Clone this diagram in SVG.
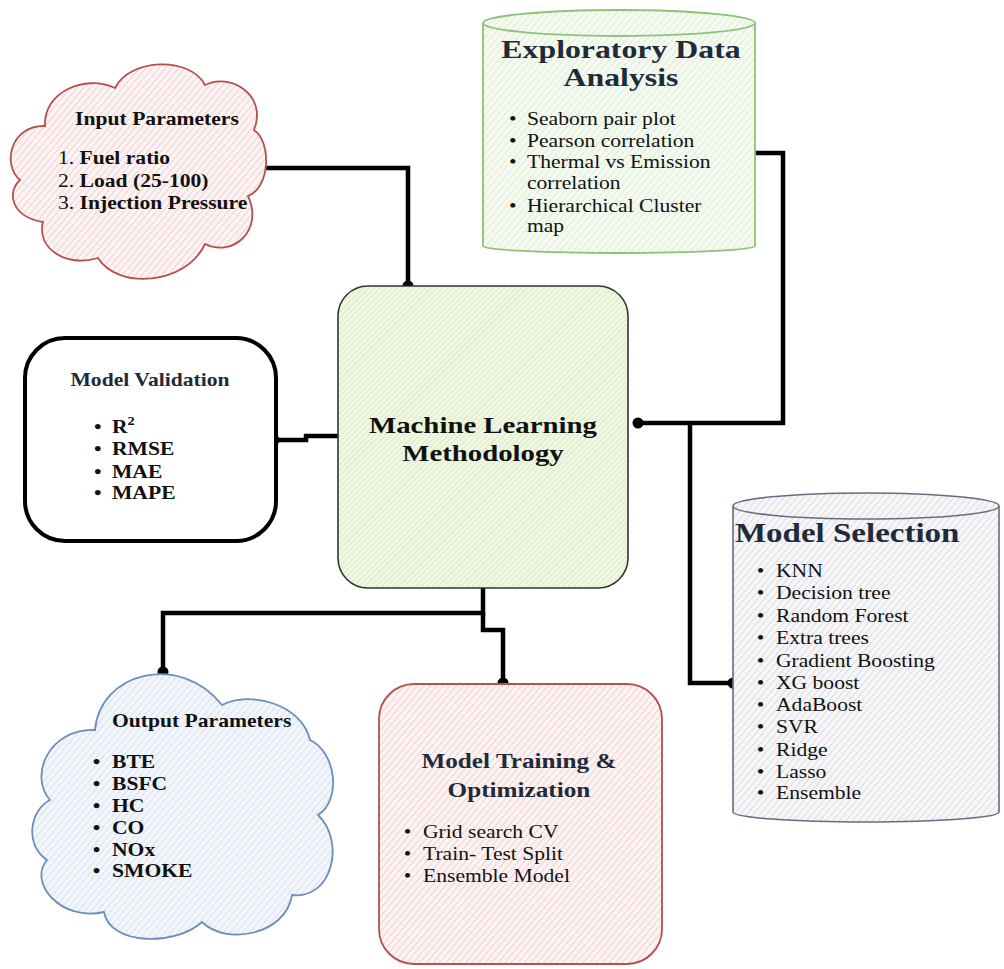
<svg xmlns="http://www.w3.org/2000/svg" width="1004" height="969" viewBox="0 0 1004 969">
<defs>
<pattern id="hRed" width="5" height="5" patternUnits="userSpaceOnUse" patternTransform="rotate(-50)"><rect width="5" height="5" fill="#fdf3f3"/><line x1="0" y1="0" x2="5" y2="0" stroke="#e6bcbc" stroke-width="1.2"/></pattern>
<pattern id="hGreen" width="5" height="5" patternUnits="userSpaceOnUse" patternTransform="rotate(-50)"><rect width="5" height="5" fill="#f5faf1"/><line x1="0" y1="0" x2="5" y2="0" stroke="#cfe3c2" stroke-width="1.2"/></pattern>
<pattern id="hLime" width="4" height="4" patternUnits="userSpaceOnUse" patternTransform="rotate(-45)"><rect width="4" height="4" fill="#f0f7e4"/><line x1="0" y1="0" x2="4" y2="0" stroke="#cde3a6" stroke-width="1.2"/></pattern>
<pattern id="hGray" width="5" height="5" patternUnits="userSpaceOnUse" patternTransform="rotate(-50)"><rect width="5" height="5" fill="#f6f6f8"/><line x1="0" y1="0" x2="5" y2="0" stroke="#c9c9d2" stroke-width="1.2"/></pattern>
<pattern id="hBlue" width="5" height="5" patternUnits="userSpaceOnUse" patternTransform="rotate(-50)"><rect width="5" height="5" fill="#f2f6fb"/><line x1="0" y1="0" x2="5" y2="0" stroke="#c5d4e6" stroke-width="1.2"/></pattern>
</defs>
<style>
.t{font-family:"Liberation Serif","Times New Roman",serif;fill:#111}
.b{font-weight:bold}
.navy{fill:#1f2a3a}
.conn{fill:none;stroke:#000;stroke-width:4.5;stroke-linejoin:miter}
.dot{fill:#000}
</style>
<rect width="1004" height="969" fill="#fff"/>

<g id="connectors">
<path class="conn" d="M250,168 H408 V286"/>
<path class="conn" d="M755,153 H783 V423 H638"/>
<path class="conn" d="M690,423 V683 H733"/>
<path class="conn" d="M274,440 H306 V436 H338"/>
<path class="conn" d="M483,588 V613 H163 V672"/>
<path class="conn" d="M483,613 V630 H503 V683"/>
<circle class="dot" cx="408" cy="286" r="5.5"/>
<circle class="dot" cx="638" cy="423" r="5.5"/>
<circle class="dot" cx="733" cy="683" r="5.5"/>
<circle class="dot" cx="274" cy="440" r="5.5"/>
<circle class="dot" cx="163" cy="672" r="5.5"/>
<circle class="dot" cx="503" cy="683" r="5.5"/>
</g>

<g id="input-parameters">
<path d="M20,180 C2,165 10,125 45,126 C43,92 85,74 115,88 C130,58 190,56 205,85 C230,72 268,95 254,130 C272,142 270,188 248,196 C264,230 233,258 205,244 C186,285 118,290 98,258 C66,268 36,248 43,222 C12,217 6,193 20,180 Z" fill="url(#hRed)" stroke="#b5504c" stroke-width="1.8"/>
<text class="t b" x="157" y="125" font-size="18" text-anchor="middle" transform="matrix(1.2,0,0,1,-31.4,0)">Input Parameters</text>
<g transform="matrix(1.2,0,0,1,-11.6,0)">
<text class="t" x="58" y="164" font-size="18">1. <tspan class="b">Fuel ratio</tspan></text>
<text class="t" x="58" y="187" font-size="18">2. <tspan class="b">Load (25-100)</tspan></text>
<text class="t" x="58" y="209" font-size="18">3. <tspan class="b">Injection Pressure</tspan></text>
</g>
</g>

<g id="eda">
<path d="M483,23 V246 A136,7 0 0 0 755,246 V23" fill="url(#hGreen)" stroke="#8cc37a" stroke-width="1.8"/>
<ellipse cx="619" cy="23" rx="136" ry="13" fill="url(#hGreen)" stroke="#8cc37a" stroke-width="1.8"/>
<g transform="matrix(1.272,0,0,1,-168.9,0)">
<text class="t b navy" x="621" y="58" font-size="25" text-anchor="middle">Exploratory Data</text>
<text class="t b navy" x="621" y="86" font-size="25" text-anchor="middle">Analysis</text>
</g>
<g class="t" font-size="18" transform="matrix(1.2,0,0,1,-105.4,0)">
<text x="512" y="125">•</text><text x="527" y="125">Seaborn pair plot</text>
<text x="512" y="147">•</text><text x="527" y="147">Pearson correlation</text>
<text x="512" y="168">•</text><text x="527" y="168">Thermal vs Emission</text>
<text x="527" y="189">correlation</text>
<text x="512" y="212">•</text><text x="527" y="212">Hierarchical Cluster</text>
<text x="527" y="232">map</text>
</g>
</g>

<g id="model-validation">
<rect x="25" y="338" width="251" height="203" rx="40" fill="#fff" stroke="#000" stroke-width="4"/>
<text class="t b navy" x="150" y="386" font-size="18" text-anchor="middle" transform="matrix(1.2,0,0,1,-30,0)">Model Validation</text>
<g class="t b" font-size="18" transform="matrix(1.2,0,0,1,-22.4,0)">
<text x="97" y="433">•</text><text x="112" y="433">R<tspan font-size="12" dy="-8">2</tspan></text>
<text x="97" y="455">•</text><text x="112" y="455">RMSE</text>
<text x="97" y="478">•</text><text x="112" y="478">MAE</text>
<text x="97" y="499">•</text><text x="112" y="499">MAPE</text>
</g>
</g>

<g id="machine-learning">
<rect x="338" y="286" width="290" height="302" rx="30" fill="url(#hLime)" stroke="#333" stroke-width="1.6"/>
<g transform="matrix(1.2,0,0,1,-96.6,0)">
<text class="t b" x="483" y="433" font-size="24" text-anchor="middle">Machine Learning</text>
<text class="t b" x="483" y="461" font-size="24" text-anchor="middle">Methodology</text>
</g>
</g>

<g id="model-selection">
<path d="M733,506 V812 A133,10 0 0 0 999,812 V506" fill="url(#hGray)" stroke="#6a6a80" stroke-width="1.6"/>
<ellipse cx="866" cy="506" rx="133" ry="13" fill="url(#hGray)" stroke="#6a6a80" stroke-width="1.6"/>
<text class="t b navy" x="735" y="542" font-size="27.5" transform="matrix(1.2,0,0,1,-147,0)">Model Selection</text>
<g class="t" font-size="18" transform="matrix(1.2,0,0,1,-155.2,0)">
<text x="760" y="577">•</text><text x="776" y="577">KNN</text>
<text x="760" y="599">•</text><text x="776" y="599">Decision tree</text>
<text x="760" y="622">•</text><text x="776" y="622">Random Forest</text>
<text x="760" y="644">•</text><text x="776" y="644">Extra trees</text>
<text x="760" y="667">•</text><text x="776" y="667">Gradient Boosting</text>
<text x="760" y="689">•</text><text x="776" y="689">XG boost</text>
<text x="760" y="711">•</text><text x="776" y="711">AdaBoost</text>
<text x="760" y="733">•</text><text x="776" y="733">SVR</text>
<text x="760" y="756">•</text><text x="776" y="756">Ridge</text>
<text x="760" y="778">•</text><text x="776" y="778">Lasso</text>
<text x="760" y="799">•</text><text x="776" y="799">Ensemble</text>
</g>
</g>

<g id="output-parameters">
<path d="M50,800 C28,775 50,728 95,730 C100,672 180,652 222,705 C252,690 302,705 310,740 C336,752 342,800 318,815 C346,842 332,900 292,895 C286,935 226,946 202,922 C176,946 110,946 104,912 C60,922 28,882 47,860 C24,845 30,810 50,800 Z" fill="url(#hBlue)" stroke="#6c8ebf" stroke-width="1.8"/>
<g class="t b" font-size="18" transform="matrix(1.2,0,0,1,-22.4,0)">
<text x="112" y="727">Output Parameters</text>
<text x="96" y="768">•</text><text x="112" y="768">BTE</text>
<text x="96" y="790">•</text><text x="112" y="790">BSFC</text>
<text x="96" y="812">•</text><text x="112" y="812">HC</text>
<text x="96" y="834">•</text><text x="112" y="834">CO</text>
<text x="96" y="856">•</text><text x="112" y="856">NOx</text>
<text x="96" y="877">•</text><text x="112" y="877">SMOKE</text>
</g>
</g>

<g id="model-training">
<rect x="379" y="684" width="283" height="280" rx="35" fill="url(#hRed)" stroke="#b5504c" stroke-width="1.8"/>
<g transform="matrix(1.2,0,0,1,-103.8,0)">
<text class="t b navy" x="519" y="768" font-size="21" text-anchor="middle">Model Training &amp;</text>
<text class="t b navy" x="519" y="797" font-size="21" text-anchor="middle">Optimization</text>
</g>
<g class="t" font-size="18" transform="matrix(1.2,0,0,1,-84.6,0)">
<text x="407" y="838">•</text><text x="423" y="838">Grid search CV</text>
<text x="407" y="860">•</text><text x="423" y="860">Train- Test Split</text>
<text x="407" y="882">•</text><text x="423" y="882">Ensemble Model</text>
</g>
</g>
</svg>
